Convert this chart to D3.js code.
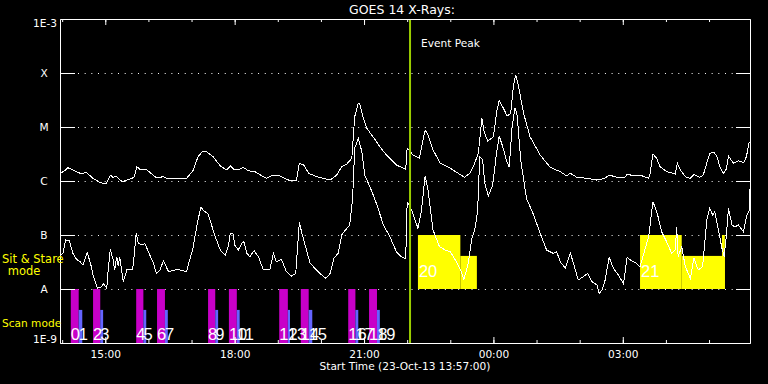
<!DOCTYPE html>
<html>
<head>
<meta charset="utf-8">
<script src="https://cdnjs.cloudflare.com/ajax/libs/d3/7.8.5/d3.min.js"></script>
<style>
body { margin: 0; background: #000; }
svg { display: block; background: #000; }
.lbl { font-family: "DejaVu Sans", sans-serif; font-size: 10.6px; fill: #fff; }
.num { font-family: "Liberation Sans", sans-serif; font-size: 16.5px; fill: #fff; }
</style>
</head>
<body>
<div id="chart"></div>
<script>
// GOES 14 1-8 A (upper) and 0.5-4 A (lower) flux, [UT, W/m2]
var longCurve = [
    ["13:57",1.42e-6],["14:02",1.49e-6],["14:08",1.76e-6],["14:15",1.6e-6],["14:25",1.39e-6],
    ["14:34",1.42e-6],["14:43",1.12e-6],["14:53",9.3e-7],["15:01",8.8e-7],["15:07",1.29e-6],
    ["15:11",1.15e-6],["15:15",1.24e-6],["15:19",1.08e-6],["15:24",9.7e-7],["15:34",1.08e-6],
    ["15:40",1.17e-6],["15:44",1.84e-6],["15:48",1.65e-6],["15:58",1.6e-6],["16:11",1.15e-6],
    ["16:21",1.2e-6],["16:25",1.12e-6],["16:53",1.12e-6],["17:02",1.55e-6],["17:09",2.82e-6],
    ["17:16",3.59e-6],["17:21",3.49e-6],["17:30",2.82e-6],["17:40",1.9e-6],["17:49",1.6e-6],
    ["17:54",1.9e-6],["18:00",1.6e-6],["18:07",1.65e-6],["18:12",1.79e-6],["18:19",1.55e-6],
    ["18:28",1.49e-6],["18:38",1.24e-6],["18:44",1.12e-6],["18:54",1.29e-6],["19:03",1.24e-6],
    ["19:15",1.04e-6],["19:26",1.04e-6],["19:30",2.13e-6],["19:36",1.98e-6],["19:43",1.39e-6],
    ["19:54",1.2e-6],["20:13",1.04e-6],["20:22",1.29e-6],["20:29",1.84e-6],["20:36",2.06e-6],
    ["20:43",2.63e-6],["20:47",1.55e-5],["20:52",2.75e-5],["20:54",2.67e-5],["20:59",1.45e-5],
    ["21:04",9.4e-6],["21:13",6.45e-6],["21:27",3.49e-6],["21:45",1.98e-6],["21:58",1.65e-6],
    ["22:00",4.04e-6],["22:02",3.8e-6],["22:08",3.03e-6],["22:17",2.63e-6],["22:25",8.8e-6],
    ["22:29",7.1e-6],["22:36",3.75e-6],["22:46",2.13e-6],["23:00",1.72e-6],["23:11",1.39e-6],
    ["23:20",1.17e-6],["23:27",1.39e-6],["23:32",1.84e-6],["23:39",3.26e-6],["23:44",1.45e-5],
    ["23:47",8.2e-6],["23:52",5.5e-6],["00:00",6.6e-6],["00:05",2.06e-5],["00:08",3.07e-5],
    ["00:14",2.22e-5],["00:19",1.6e-5],["00:24",1.79e-5],["00:28",6e-5],["00:31",9.2e-5],
    ["00:35",5.6e-5],["00:42",1.79e-5],["00:51",6.6e-6],["01:05",3.03e-6],["01:19",1.79e-6],
    ["01:33",1.49e-6],["01:42",1.24e-6],["01:47",1.39e-6],["01:56",1.17e-6],["02:10",1.12e-6],
    ["02:24",1.04e-6],["02:35",1.12e-6],["02:41",1.29e-6],["02:52",1.17e-6],["03:03",1.17e-6],
    ["03:06",1.35e-6],["03:15",1.24e-6],["03:24",1.29e-6],["03:36",1.12e-6],["03:38",1.39e-6],
    ["03:42",3.16e-6],["03:47",2.63e-6],["03:52",1.84e-6],["04:01",1.49e-6],["04:13",1.35e-6],
    ["04:16",2.13e-6],["04:20",1.6e-6],["04:27",1.2e-6],["04:34",1.12e-6],["04:39",1.33e-6],
    ["04:47",1.17e-6],["04:52",1.29e-6],["04:57",2.18e-6],["05:01",3.26e-6],["05:07",3.4e-6],
    ["05:11",2.82e-6],["05:15",1.84e-6],["05:20",1.39e-6],["05:24",1.65e-6],["05:27",2.9e-6],
    ["05:34",2.13e-6],["05:41",2.38e-6],["05:48",2.18e-6],["05:52",2.82e-6],["05:56",5.34e-6]
];

var shortCurve = [
    ["13:57",4.26e-8],["14:01",4.58e-8],["14:05",8.1e-8],["14:10",7.85e-8],["14:15",4.58e-8],
    ["14:20",3.55e-8],["14:25",3.2e-8],["14:29",2.78e-8],["14:35",4.7e-8],["14:40",2.78e-8],
    ["14:43",1.82e-8],["14:49",1.03e-8],["14:55",1.1e-8],["14:57",1.27e-8],["15:02",1.03e-8],
    ["15:04",2.25e-8],["15:07",5.43e-8],["15:11",3.44e-8],["15:13",2.25e-8],["15:16",3.96e-8],
    ["15:18",2.67e-8],["15:20",3.96e-8],["15:25",1.37e-8],["15:30",2.25e-8],["15:37",2.25e-8],
    ["15:39",2.78e-8],["15:43",1.1e-7],["15:46",7e-8],["15:51",6.52e-8],["15:55",7e-8],
    ["16:00",4.9e-8],["16:07",2.99e-8],["16:11",1.95e-8],["16:16",2.25e-8],["16:21",3.34e-8],
    ["16:28",2.09e-8],["16:37",2.25e-8],["16:44",2.25e-8],["16:53",2.09e-8],["16:56",2.99e-8],
    ["17:02",5.67e-8],["17:08",1.65e-7],["17:13",3.26e-7],["17:17",2.82e-7],["17:23",2.45e-7],
    ["17:33",9.3e-8],["17:40",5.27e-8],["17:47",4.26e-8],["17:51",6.07e-8],["17:54",1.08e-7],
    ["17:58",1.04e-7],["18:00",6.52e-8],["18:05",5.27e-8],["18:10",7e-8],["18:13",7.5e-8],
    ["18:17",4.58e-8],["18:21",3.96e-8],["18:27",5.11e-8],["18:33",3.96e-8],["18:40",2.25e-8],
    ["18:49",2.32e-8],["18:54",4.58e-8],["18:58",3.2e-8],["19:05",3.55e-8],["19:12",2.09e-8],
    ["19:19",1.74e-8],["19:25",1.95e-8],["19:30",1.72e-7],["19:33",1.15e-7],["19:38",6.52e-8],
    ["19:45",2.99e-8],["19:54",2.25e-8],["20:01",1.82e-8],["20:07",1.58e-8],["20:13",1.95e-8],
    ["20:18",3.7e-8],["20:24",4.58e-8],["20:29",1e-7],["20:36",1.33e-7],["20:40",1.53e-7],
    ["20:44",4.45e-7],["20:47",4.04e-6],["20:52",6.17e-6],["20:57",3.49e-6],["21:01",1.29e-6],
    ["21:11",6.34e-7],["21:18",3.59e-7],["21:27",1.53e-7],["21:36",9.3e-8],["21:45",4.9e-8],
    ["21:52",3.96e-8],["21:58",3.6e-8],["22:00",3.96e-7],["22:02",3.8e-7],["22:08",2.52e-7],
    ["22:15",1.33e-7],["22:20",2.9e-7],["22:25",1.24e-6],["22:29",6.81e-7],["22:36",1.24e-7],
    ["22:45",6.07e-8],["22:53",5.27e-8],["23:00",4.9e-8],["23:07",3.44e-8],["23:14",2.32e-8],
    ["23:19",1.51e-8],["23:25",2.99e-8],["23:30",8.7e-8],["23:34",1.24e-7],["23:38",2.7e-7],
    ["23:41",2.82e-6],["23:45",2.45e-6],["23:48",9.06e-7],["23:53",5.27e-7],["23:59",8.43e-7],
    ["00:04",3.03e-6],["00:08",6.81e-6],["00:13",4.32e-6],["00:18",2.45e-6],["00:22",1.79e-6],
    ["00:26",1.01e-5],["00:30",2.28e-5],["00:33",1.67e-5],["00:38",2.45e-6],["00:46",4.77e-7],
    ["00:56",2.35e-7],["01:05",1.08e-7],["01:14",5.27e-8],["01:23",4.58e-8],["01:28",4.9e-8],
    ["01:33",3.2e-8],["01:40",2.42e-8],["01:47",4.7e-8],["01:52",2.78e-8],["01:58",1.47e-8],
    ["02:05",1.69e-8],["02:11",1.95e-8],["02:17",1.37e-8],["02:24",1.19e-8],["02:27",8.3e-9],
    ["02:31",9.5e-9],["02:35",1.37e-8],["02:41",3.86e-8],["02:47",2.42e-8],["02:54",1.82e-8],
    ["03:01",1.24e-8],["03:06",3.86e-8],["03:12",3.34e-8],["03:19",2.99e-8],["03:24",2.59e-8],
    ["03:36",9.3e-8],["03:42",4.14e-7],["03:48",2.52e-7],["03:54",1.15e-7],["04:01",7.5e-8],
    ["04:08",4.58e-8],["04:13",5.27e-8],["04:15",1.42e-7],["04:17",3.96e-8],["04:22",6.07e-8],
    ["04:27",2.59e-8],["04:34",1.58e-8],["04:39",3.7e-8],["04:45",2.25e-8],["04:51",2.59e-8],
    ["04:57",1.9e-7],["05:01",3.12e-7],["05:05",2.35e-7],["05:08",2.7e-7],["05:13",1.24e-7],
    ["05:18",5.67e-8],["05:21",3.96e-8],["05:24",9.3e-8],["05:27",3.12e-7],["05:32",1.53e-7],
    ["05:36",1.42e-7],["05:41",1.53e-7],["05:48",1.15e-7],["05:52",2.18e-7],["05:56",2.9e-7],
    ["05:57",7e-7]
];

// scan mode intervals: magenta part then blue part, numbered 0..19
var scanStart  = ["14:12","14:43","15:43","16:12","17:23","17:52","19:02","19:32","20:38","21:07"];
var scanSwitch = ["14:23","14:53","15:53","16:23","17:33","18:03","19:14","19:43","20:48","21:18"];
var scanEnd    = ["14:28","14:57","15:57","16:27","17:37","18:07","19:17","19:48","20:52","21:22"];

// sit & stare intervals
var stareStart = ["22:15","23:14","03:24","04:22","05:18"];
var stareEnd   = ["23:14","23:37","04:22","05:22","05:22"];
var stareTop   = [1e-7, 4.1e-8, 1e-7, 4.1e-8, 1e-7];
var stareLabels = ["20", "21"];
var stareLabelTimes = ["22:15", "03:24"];

var classLevels = [1e-8, 1e-7, 1e-6, 1e-5, 1e-4];
var classNames = ["A", "B", "C", "M", "X"];
var scanTop = 1e-8;
var scanBlueTop = 4.1e-9;
var eventPeak = "22:04";

function toDate(s) {
    var p = s.split(':');
    var h = +p[0], m = +p[1];
    var day = (h < 12) ? 24 : 23;
    return new Date(Date.UTC(2013, 9, day, h, m));
}

var width = 768, height = 384;
var plotL = 60, plotR = 750, plotT = 19, plotB = 343;

var svg = d3.select('#chart')
    .append('svg')
    .attr('width', width)
    .attr('height', height);

var x = d3.scaleUtc()
    .domain([toDate("13:57"), toDate("05:57")])
    .range([plotL, plotR]);

var y = d3.scaleLog()
    .domain([1e-9, 1e-3])
    .range([plotB, plotT]);

// dotted class lines
svg.append('g').selectAll('line')
    .data(classLevels)
    .enter().append('line')
    .attr('x1', plotL + 18)
    .attr('x2', plotR - 14)
    .attr('y1', function(d) { return Math.round(y(d)) + 0.5; })
    .attr('y2', function(d) { return Math.round(y(d)) + 0.5; })
    .style('stroke', '#fff')
    .style('stroke-dasharray', '1,5.67');

// sit & stare blocks
svg.append('g').selectAll('rect')
    .data(stareStart)
    .enter().append('rect')
    .attr('x', function(d) { return x(toDate(d)); })
    .attr('width', function(d, i) { return x(toDate(stareEnd[i])) - x(toDate(d)); })
    .attr('y', function(d, i) { return y(stareTop[i]); })
    .attr('height', function(d, i) { return y(1e-8) - y(stareTop[i]); })
    .style('fill', '#ffff00');

// scan mode bars
var scan = svg.append('g');
scan.selectAll('.mag')
    .data(scanStart)
    .enter().append('rect')
    .attr('class', 'mag')
    .attr('x', function(d) { return x(toDate(d)); })
    .attr('width', function(d, i) { return x(toDate(scanSwitch[i])) - x(toDate(d)); })
    .attr('y', y(scanTop))
    .attr('height', y(1e-9) - y(scanTop))
    .style('fill', '#c800c8');
scan.selectAll('.blu')
    .data(scanSwitch)
    .enter().append('rect')
    .attr('class', 'blu')
    .attr('x', function(d) { return x(toDate(d)); })
    .attr('width', function(d, i) { return x(toDate(scanEnd[i])) - x(toDate(d)); })
    .attr('y', y(scanBlueTop))
    .attr('height', y(1e-9) - y(scanBlueTop))
    .style('fill', '#6464ff');

// flux curves
var line = d3.line()
    .x(function(d) { return x(toDate(d[0])); })
    .y(function(d) { return y(d[1]); });

[longCurve, shortCurve].forEach(function(c) {
    svg.append('path')
        .datum(c)
        .attr('d', line)
        .attr('shape-rendering', 'crispEdges')
        .style('fill', 'none')
        .style('stroke', '#fff')
        .style('stroke-width', 1);
});

// numbers on the observing blocks
var nums = svg.append('g');
scanStart.forEach(function(d, i) {
    nums.append('text').attr('class', 'num')
        .attr('x', x(toDate(d))).attr('y', 340).text(2 * i);
    nums.append('text').attr('class', 'num')
        .attr('x', x(toDate(scanSwitch[i]))).attr('y', 340).text(2 * i + 1);
});
stareLabels.forEach(function(d, i) {
    nums.append('text').attr('class', 'num')
        .attr('x', x(toDate(stareLabelTimes[i])) + 1).attr('y', 277).text(d);
});

// event peak marker
svg.append('line')
    .attr('x1', x(toDate(eventPeak)))
    .attr('x2', x(toDate(eventPeak)))
    .attr('y1', plotT)
    .attr('y2', plotB)
    .style('stroke', '#9acd00')
    .style('stroke-width', 2);
svg.append('text').attr('class', 'lbl')
    .attr('x', x(toDate(eventPeak)) + 11)
    .attr('y', 47)
    .text('Event Peak');

// axes
function styleAxis(g) {
    g.attr('color', '#fff')
        .attr('font-family', '"DejaVu Sans", sans-serif')
        .attr('font-size', 10.6);
}

svg.append('g')
    .attr('transform', 'translate(0,' + plotB + ')')
    .call(d3.axisBottom(x).ticks(d3.utcHour.every(1)).tickSizeInner(-3).tickSizeOuter(0).tickFormat(''))
    .call(styleAxis);
svg.append('g')
    .attr('transform', 'translate(0,' + plotB + ')')
    .call(d3.axisBottom(x).ticks(d3.utcHour.every(3)).tickSizeInner(-6).tickSizeOuter(0)
        .tickPadding(7.5).tickFormat(d3.utcFormat('%H:%M')))
    .call(styleAxis);
svg.append('g')
    .attr('transform', 'translate(0,' + plotT + ')')
    .call(d3.axisTop(x).ticks(d3.utcHour.every(1)).tickSizeInner(-3).tickSizeOuter(0).tickFormat(''))
    .call(styleAxis);
svg.append('g')
    .attr('transform', 'translate(0,' + plotT + ')')
    .call(d3.axisTop(x).ticks(d3.utcHour.every(3)).tickSizeInner(-6).tickSizeOuter(0).tickFormat(''))
    .call(styleAxis);

var yl = svg.append('g')
    .attr('transform', 'translate(' + plotL + ',0)')
    .call(d3.axisLeft(y).tickValues(classLevels).tickSizeInner(-15).tickSizeOuter(0)
        .tickFormat(function(d, i) { return classNames[i]; }))
    .call(styleAxis);
yl.selectAll('.tick text')
    .attr('text-anchor', 'middle')
    .attr('x', -16);

svg.append('g')
    .attr('transform', 'translate(' + plotR + ',0)')
    .call(d3.axisRight(y).tickValues(classLevels).tickSizeInner(-14).tickSizeOuter(0).tickFormat(''))
    .call(styleAxis);

svg.append('text').attr('class', 'lbl')
    .attr('x', 57).attr('y', 27).attr('text-anchor', 'end').text('1E-3');
svg.append('text').attr('class', 'lbl')
    .attr('x', 57).attr('y', 343).attr('text-anchor', 'end').text('1E-9');

// titles
svg.append('text').attr('class', 'lbl')
    .attr('x', 402).attr('y', 13.5).attr('text-anchor', 'middle')
    .style('font-size', '12.5px')
    .text('GOES 14 X-Rays:');
svg.append('text').attr('class', 'lbl')
    .attr('x', 405).attr('y', 370).attr('text-anchor', 'middle')
    .text('Start Time (23-Oct-13 13:57:00)');

// mode labels
svg.append('text').attr('class', 'lbl').style('fill', '#ffff00')
    .attr('x', 2).attr('y', 263).style('font-size', '11.5px').text('Sit & Stare');
svg.append('text').attr('class', 'lbl').style('fill', '#ffff00')
    .attr('x', 24).attr('y', 275).attr('text-anchor', 'middle').style('font-size', '11.5px').text('mode');
svg.append('text').attr('class', 'lbl').style('fill', '#ffff00')
    .attr('x', 2).attr('y', 327).text('Scan mode');
</script>
</body>
</html>
